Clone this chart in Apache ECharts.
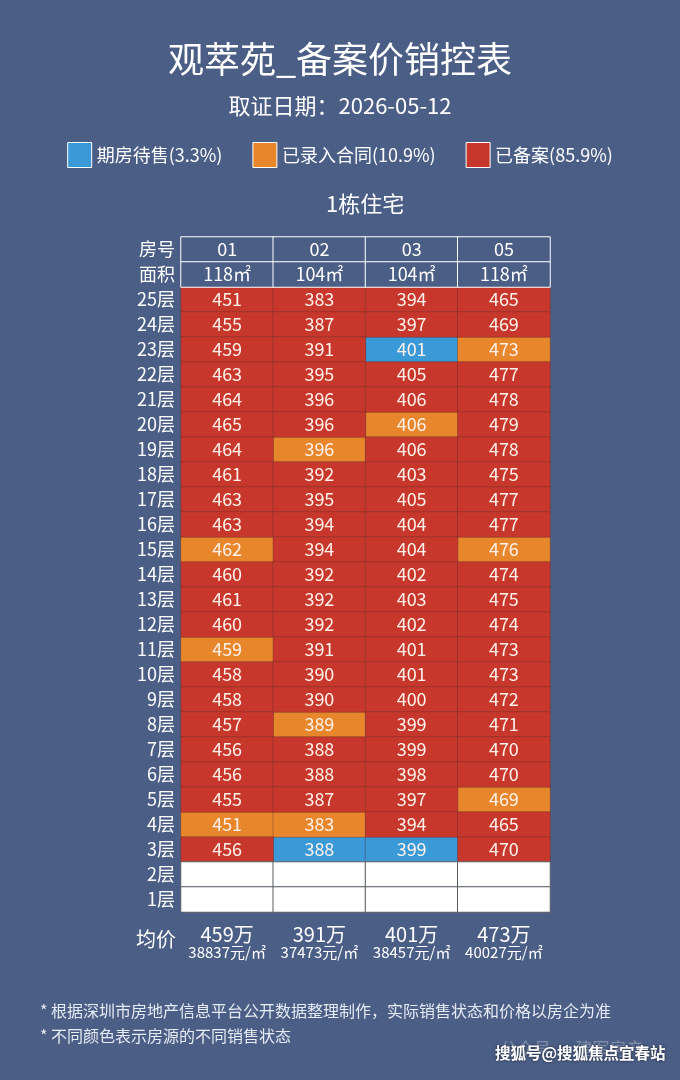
<!DOCTYPE html>
<html>
<head>
<meta charset="utf-8">
<script src="https://cdn.jsdelivr.net/npm/echarts@6/dist/echarts.min.js"></script>
<style>
  html, body { margin: 0; padding: 0; background: #4b5e86; }
  #main { width: 680px; height: 1080px; }
</style>
</head>
<body>
<div id="main"></div>
<script>
// 房号 / 面积
var rooms = ['01', '02', '03', '05'];
var areas = ['118㎡', '104㎡', '104㎡', '118㎡'];
// 楼层（从上往下）
var floors = ['25层', '24层', '23层', '22层', '21层', '20层', '19层', '18层', '17层', '16层', '15层', '14层',
    '13层', '12层', '11层', '10层', '9层', '8层', '7层', '6层', '5层', '4层', '3层'];
var emptyFloors = ['2层', '1层'];
// 各户备案价（万），25层 -> 3层
var price01 = [451, 455, 459, 463, 464, 465, 464, 461, 463, 463, 462, 460, 461, 460, 459, 458, 458, 457, 456, 456, 455, 451, 456];
var price02 = [383, 387, 391, 395, 396, 396, 396, 392, 395, 394, 394, 392, 392, 392, 391, 390, 390, 389, 388, 388, 387, 383, 388];
var price03 = [394, 397, 401, 405, 406, 406, 406, 403, 405, 404, 404, 402, 403, 402, 401, 401, 400, 399, 399, 398, 397, 394, 399];
var price05 = [465, 469, 473, 477, 478, 479, 478, 475, 477, 477, 476, 474, 475, 474, 473, 473, 472, 471, 470, 470, 469, 465, 470];
// 状态 B=期房待售 O=已录入合同 R=已备案，25层 -> 3层
var state01 = ['R','R','R','R','R','R','R','R','R','R','O','R','R','R','O','R','R','R','R','R','R','O','R'];
var state02 = ['R','R','R','R','R','R','O','R','R','R','R','R','R','R','R','R','R','O','R','R','R','O','B'];
var state03 = ['R','R','B','R','R','O','R','R','R','R','R','R','R','R','R','R','R','R','R','R','R','R','B'];
var state05 = ['R','R','O','R','R','R','R','R','R','R','O','R','R','R','R','R','R','R','R','R','O','R','R'];
// 均价
var avgTotal = ['459万', '391万', '401万', '473万'];
var avgUnit = ['38837元/㎡', '37473元/㎡', '38457元/㎡', '40027元/㎡'];
var legendNames = ['期房待售(3.3%)', '已录入合同(10.9%)', '已备案(85.9%)'];

var FONT = '"Noto Sans CJK SC", sans-serif';
var colors = { B: '#3a9ad8', O: '#e8862b', R: '#c8372c' };

// y 轴从下往上
var yCats = emptyFloors.slice().reverse().concat(floors.slice().reverse()).concat(['面积', '房号']);
function yIndex(label) { return yCats.indexOf(label); }

var prices = [price01, price02, price03, price05];
var states = [state01, state02, state03, state05];
var buckets = { B: [], O: [], R: [] };
for (var c = 0; c < rooms.length; c++) {
    for (var f = 0; f < floors.length; f++) {
        buckets[states[c][f]].push([c, yIndex(floors[f]), prices[c][f]]);
    }
}
var headerData = [];
var blankData = [];
for (var c2 = 0; c2 < rooms.length; c2++) {
    headerData.push({ name: rooms[c2], value: [c2, yIndex('房号'), 0] });
    headerData.push({ name: areas[c2], value: [c2, yIndex('面积'), 0] });
    for (var e = 0; e < emptyFloors.length; e++) {
        blankData.push([c2, yIndex(emptyFloors[e]), 0]);
    }
}

function statusSeries(name, key) {
    return {
        name: name,
        type: 'heatmap',
        data: buckets[key],
        itemStyle: { color: colors[key], borderColor: 'rgba(90,45,50,0.35)', borderWidth: 1 },
        label: {
            show: true,
            color: '#fdf1ea',
            fontSize: 18,
            fontFamily: FONT,
            formatter: function (p) { return p.value[2]; }
        },
        emphasis: { disabled: true }
    };
}

var option = {
    backgroundColor: '#4b5e86',
    textStyle: { fontFamily: FONT },
    title: [{
        text: '观萃苑_备案价销控表',
        left: 'center',
        top: 36,
        textStyle: { color: '#fff', fontSize: 36, fontWeight: 'normal', fontFamily: FONT }
    }, {
        text: '取证日期：2026-05-12',
        left: 'center',
        top: 90,
        textStyle: { color: '#fff', fontSize: 22, fontWeight: 'normal', fontFamily: FONT }
    }],
    legend: {
        top: 137,
        left: 'center',
        itemWidth: 24,
        itemHeight: 25,
        itemGap: 30,
        icon: 'rect',
        data: legendNames,
        itemStyle: { borderColor: '#ffffff', borderWidth: 1 },
        textStyle: { color: '#fff', fontSize: 18, fontFamily: FONT },
        selectedMode: false
    },
    grid: { left: 181, top: 237, width: 369, height: 675 },
    xAxis: {
        type: 'category',
        data: rooms,
        position: 'bottom',
        axisLine: { show: false },
        axisTick: { show: false },
        splitLine: { show: false },
        axisLabel: {
            interval: 0,
            margin: 12,
            formatter: function (v, i) {
                return '{a|' + avgTotal[i] + '}\n{b|' + avgUnit[i] + '}';
            },
            rich: {
                a: { color: '#fff', fontSize: 20, lineHeight: 20, fontFamily: FONT },
                b: { color: '#fff', fontSize: 15, lineHeight: 17, fontFamily: FONT }
            }
        }
    },
    yAxis: {
        type: 'category',
        data: yCats,
        axisLine: { show: false },
        axisTick: { show: false },
        splitLine: { show: false },
        axisLabel: { interval: 0, color: '#fff', fontSize: 18, margin: 6, fontFamily: FONT }
    },
    graphic: [{
        type: 'text',
        left: 326,
        top: 193,
        style: { text: '1栋住宅', fill: '#fff', fontSize: 22, fontFamily: FONT }
    }, {
        type: 'text',
        left: 136,
        top: 929,
        style: { text: '均价', fill: '#fff', fontSize: 20, fontFamily: FONT }
    }, {
        type: 'text',
        left: 40,
        top: 998,
        style: {
            text: '* 根据深圳市房地产信息平台公开数据整理制作，实际销售状态和价格以房企为准\n* 不同颜色表示房源的不同销售状态',
            fill: '#e6eaf2', fontSize: 16, lineHeight: 25, fontFamily: FONT
        }
    }, {
        type: 'text',
        left: 500,
        top: 1040,
        style: { text: '公众号 · 建军房产', fill: 'rgba(255,255,255,0.3)', fontSize: 17, fontFamily: FONT }
    }, {
        type: 'text',
        left: 495,
        top: 1045,
        style: {
            text: '搜狐号@搜狐焦点宜春站', fill: '#fff', fontSize: 15.5, fontWeight: 'bold', fontFamily: FONT,
            textShadowColor: 'rgba(0,0,0,0.6)', textShadowBlur: 3
        }
    }],
    series: [
        statusSeries(legendNames[0], 'B'),
        statusSeries(legendNames[1], 'O'),
        statusSeries(legendNames[2], 'R'),
        {
            name: 'header',
            type: 'heatmap',
            data: headerData,
            itemStyle: { color: '#4b5e86', borderColor: '#ffffff', borderWidth: 1 },
            label: {
                show: true, color: '#fff', fontSize: 18, fontFamily: FONT,
                formatter: function (p) { return p.name; }
            },
            emphasis: { disabled: true }
        },
        {
            name: 'blank',
            type: 'heatmap',
            data: blankData,
            itemStyle: { color: '#ffffff', borderColor: '#555a62', borderWidth: 1 },
            label: { show: false },
            emphasis: { disabled: true }
        }
    ]
};

var chart = echarts.init(document.getElementById('main'));
chart.setOption(option);
</script>
</body>
</html>
